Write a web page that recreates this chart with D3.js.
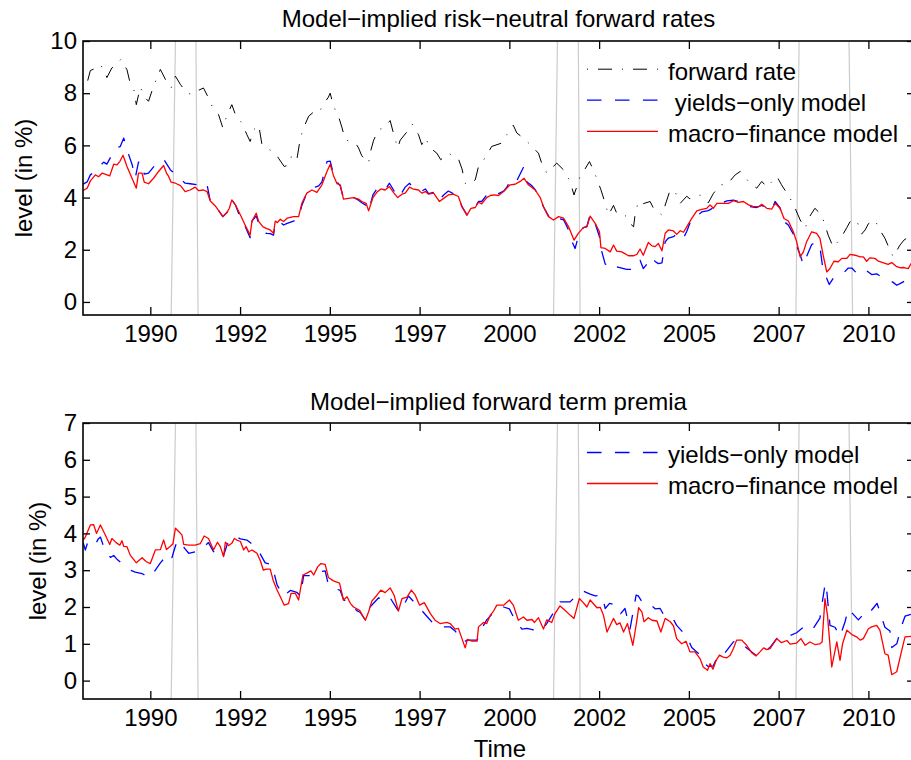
<!DOCTYPE html>
<html>
<head>
<meta charset="utf-8">
<script src="https://cdn.jsdelivr.net/npm/d3@7"></script>
<style>
  body { margin: 0; background: #fff; }
  svg { display: block; font-family: "Liberation Sans", Arial, sans-serif; }
  .tick text { font-size: 24px; fill: #000; font-family: "Liberation Sans", Arial, sans-serif; }
  .tick line { stroke: #000; stroke-width: 1.3; }
  .label { font-size: 24px; fill: #000; }
</style>
</head>
<body>
<svg id="chart"></svg>
<script>
// DATA (decimal years, percent)

const xTickValues = [1990, 1992.5, 1995, 1997.5, 2000, 2002.5, 2005, 2007.5, 2010];
const xTickLabels = ["1990", "1992", "1995", "1997", "2000", "2002", "2005", "2007", "2010"];
const topYTicks = [0, 2, 4, 6, 8, 10];
const bottomYTicks = [0, 1, 2, 3, 4, 5, 6, 7];

// recession markers (slanted grey lines): date at the bottom and at the top of each line
const recessionBottom = [1990.58, 1991.33, 2001.23, 2001.97, 2007.98, 2009.56];
const recessionTop    = [1990.70, 1991.27, 2001.34, 2001.92, 2008.07, 2009.46];

const fwdRate = [
  [1988.13,8.1],[1988.24,8.4],[1988.33,8.87],[1988.47,8.95],[1988.61,9.1],[1988.70,8.9],[1988.79,8.6],
  [1988.93,8.97],[1989.05,9.08],[1989.18,9.3],[1989.35,8.9],[1989.42,8.49],[1989.54,8.14],[1989.61,7.56],
  [1989.72,8.23],[1989.86,7.82],[1989.95,7.69],[1990.09,8.27],[1990.28,8.91],[1990.42,8.53],[1990.58,8.2],
  [1990.70,8.65],[1990.84,8.33],[1991.02,8.01],[1991.16,7.95],[1991.25,8.05],[1991.48,8.2],[1991.62,7.82],
  [1991.72,7.5],[1991.90,7.18],[1992.02,6.67],[1992.14,7.18],[1992.27,7.56],[1992.37,7.18],[1992.55,6.86],
  [1992.69,6.41],[1992.78,6.15],[1992.88,6.6],[1993.02,6.77],[1993.11,6.03],[1993.25,5.9],[1993.39,5.77],
  [1993.48,5.7],[1993.57,5.51],[1993.73,5.19],[1993.85,5.25],[1993.94,5.62],[1994.08,5.45],[1994.18,6.28],
  [1994.27,6.67],[1994.41,7.12],[1994.55,7.28],[1994.69,7.25],[1994.82,7.56],[1994.96,7.85],[1995.01,8.0],
  [1995.10,7.5],[1995.24,7.12],[1995.34,6.67],[1995.43,6.22],[1995.57,6.15],[1995.71,6.1],[1995.80,5.9],
  [1995.89,5.6],[1996.08,5.32],[1996.12,5.7],[1996.22,6.2],[1996.36,6.6],[1996.50,6.67],[1996.68,6.95],
  [1996.77,6.47],[1996.89,5.9],[1996.96,6.2],[1997.16,6.54],[1997.29,6.82],[1997.47,6.41],[1997.56,6.03],
  [1997.66,6.3],[1997.80,5.9],[1997.98,5.7],[1998.09,5.45],[1998.30,5.7],[1998.58,5.49],[1998.68,5.1],
  [1998.77,4.55],[1998.86,4.49],[1999.05,4.68],[1999.14,5.19],[1999.23,5.32],[1999.37,5.64],[1999.51,5.96],
  [1999.79,6.09],[1999.93,6.41],[2000.11,6.77],[2000.21,6.47],[2000.39,6.28],[2000.58,6.03],[2000.81,5.7],
  [2000.90,5.32],[2001.04,4.94],[2001.32,5.32],[2001.51,5.06],[2001.69,4.62],[2001.80,4.1],[2001.88,4.42],
  [2001.97,4.8],[2002.11,5.1],[2002.23,5.38],[2002.34,5.06],[2002.55,4.3],[2002.67,3.78],[2002.76,3.33],
  [2002.90,3.7],[2002.99,3.4],[2003.10,3.4],[2003.27,3.27],[2003.36,3.01],[2003.46,2.88],[2003.50,3.33],
  [2003.59,3.85],[2003.69,3.75],[2003.92,3.85],[2004.01,3.6],[2004.25,3.33],[2004.48,4.3],[2004.62,4.2],
  [2004.76,3.78],[2004.94,4.05],[2005.03,3.95],[2005.31,4.1],[2005.45,3.95],[2005.54,3.8],[2005.68,4.15],
  [2005.87,4.49],[2006.06,4.5],[2006.29,4.87],[2006.43,5.0],[2006.56,4.8],[2006.66,4.62],[2006.89,4.36],
  [2007.03,4.62],[2007.17,4.4],[2007.45,4.81],[2007.58,4.49],[2007.82,3.97],[2007.96,3.59],[2008.10,3.14],
  [2008.24,2.82],[2008.33,3.2],[2008.51,3.59],[2008.70,3.33],[2008.88,2.56],[2009.02,2.1],[2009.21,2.4],
  [2009.40,2.85],[2009.49,3.08],[2009.67,3.14],[2009.81,2.6],[2009.91,2.76],[2010.00,3.0],[2010.18,3.14],
  [2010.32,2.76],[2010.46,2.44],[2010.60,1.99],[2010.69,1.73],[2010.88,2.18],[2010.99,2.37],[2011.19,2.56],
  [2011.27,2.6]
];

const rnYields = [
  [1988.13,4.51],[1988.24,4.6],[1988.33,4.87],[1988.47,5.0],[1988.56,5.15],[1988.70,5.36],[1988.79,5.28],
  [1988.93,5.64],[1989.03,5.9],[1989.16,5.95],[1989.26,6.28],[1989.35,5.83],[1989.49,5.28],[1989.58,4.74],
  [1989.67,5.36],[1989.77,5.36],[1989.83,4.9],[1989.95,4.94],[1990.14,5.26],[1990.37,5.47],[1990.56,5.06],
  [1990.70,4.9],[1990.84,4.72],[1990.97,4.55],[1991.11,4.53],[1991.34,4.49],[1991.48,4.59],[1991.58,4.49],
  [1991.67,3.87],[1991.81,3.68],[1992.02,3.27],[1992.14,3.44],[1992.20,3.6],[1992.27,3.91],[1992.37,3.72],
  [1992.51,3.2],[1992.64,2.9],[1992.78,2.46],[1992.83,3.1],[1992.95,3.3],[1993.02,3.0],[1993.14,2.75],
  [1993.23,2.63],[1993.34,2.62],[1993.43,2.56],[1993.48,3.0],[1993.54,2.95],[1993.62,3.05],[1993.71,2.95],
  [1993.81,3.01],[1993.99,3.1],[1994.08,3.14],[1994.13,3.2],[1994.22,3.7],[1994.36,4.17],[1994.50,4.35],
  [1994.59,4.4],[1994.69,4.45],[1994.78,4.6],[1994.92,5.38],[1995.01,5.4],[1995.10,4.9],[1995.20,4.6],
  [1995.29,4.45],[1995.38,3.97],[1995.52,3.97],[1995.66,4.0],[1995.80,3.9],[1995.89,3.8],[1996.01,3.7],
  [1996.08,3.5],[1996.20,4.1],[1996.31,4.33],[1996.42,4.4],[1996.54,4.3],[1996.66,4.55],[1996.77,4.3],
  [1996.89,4.0],[1997.01,4.2],[1997.10,4.4],[1997.22,4.55],[1997.33,4.35],[1997.47,4.3],[1997.56,4.25],
  [1997.66,4.33],[1997.75,4.15],[1997.89,4.2],[1998.05,3.9],[1998.17,4.1],[1998.30,4.25],[1998.44,4.15],
  [1998.58,4.05],[1998.68,3.65],[1998.82,3.33],[1998.93,3.6],[1999.05,3.65],[1999.14,3.85],[1999.23,3.85],
  [1999.37,4.1],[1999.47,4.2],[1999.58,4.23],[1999.70,4.15],[1999.84,4.25],[1999.93,4.4],[2000.07,4.75],
  [2000.21,4.65],[2000.39,5.15],[2000.49,4.6],[2000.63,4.45],[2000.72,4.3],[2000.86,3.95],[2000.95,3.65],
  [2001.09,3.3],[2001.23,3.1],[2001.37,3.2],[2001.51,3.15],[2001.65,2.75],[2001.75,2.3],[2001.83,2.05],
  [2001.92,2.5],[2002.06,2.85],[2002.16,2.9],[2002.25,3.35],[2002.39,3.0],[2002.51,2.5],[2002.56,2.0],
  [2002.67,1.45],[2002.81,1.4],[2002.90,1.5],[2002.99,1.35],[2003.13,1.3],[2003.27,1.25],[2003.41,1.25],
  [2003.46,1.41],[2003.55,1.55],[2003.64,1.6],[2003.73,1.28],[2003.83,1.45],[2003.97,1.73],[2004.06,1.55],
  [2004.15,1.47],[2004.25,1.5],[2004.34,2.3],[2004.43,2.45],[2004.57,2.5],[2004.71,2.65],[2004.85,2.45],
  [2004.94,2.7],[2005.08,3.2],[2005.22,3.3],[2005.36,3.45],[2005.54,3.5],[2005.68,3.6],[2005.78,3.75],
  [2005.92,3.8],[2006.06,3.87],[2006.24,3.9],[2006.38,3.85],[2006.56,3.8],[2006.70,3.65],[2006.89,3.62],
  [2007.03,3.7],[2007.17,3.58],[2007.31,3.55],[2007.40,3.85],[2007.54,3.6],[2007.63,3.1],[2007.77,2.95],
  [2007.91,2.6],[2008.00,2.15],[2008.10,1.8],[2008.19,1.42],[2008.28,1.75],[2008.42,2.2],[2008.56,2.3],
  [2008.65,2.1],[2008.74,1.2],[2008.84,0.9],[2008.91,0.67],[2009.04,0.95],[2009.16,1.0],[2009.30,1.1],
  [2009.44,1.3],[2009.54,1.3],[2009.67,1.1],[2009.81,1.05],[2009.95,1.2],[2010.09,1.05],[2010.23,1.08],
  [2010.32,1.0],[2010.42,0.95],[2010.55,0.85],[2010.69,0.75],[2010.79,0.64],[2010.88,0.7],[2010.97,0.77],
  [2011.11,0.88],[2011.19,0.8],[2011.27,0.85]
];

const rnMacro = [
  [1988.13,4.27],[1988.24,4.36],[1988.33,4.64],[1988.47,4.87],[1988.56,4.80],[1988.66,4.94],[1988.87,4.83],
  [1988.98,5.28],[1989.07,5.25],[1989.15,5.38],[1989.24,5.62],[1989.35,5.19],[1989.49,4.74],[1989.61,4.36],
  [1989.67,4.94],[1989.77,4.94],[1989.83,4.59],[1989.95,4.53],[1990.09,4.74],[1990.23,5.00],[1990.37,5.23],
  [1990.45,4.94],[1990.51,4.81],[1990.58,4.59],[1990.70,4.55],[1990.84,4.46],[1990.97,4.23],[1991.11,4.29],
  [1991.25,4.40],[1991.34,4.27],[1991.48,4.29],[1991.58,4.23],[1991.67,3.87],[1991.81,3.68],[1992.02,3.27],
  [1992.14,3.44],[1992.20,3.59],[1992.27,3.91],[1992.37,3.72],[1992.51,3.33],[1992.64,2.95],[1992.78,2.56],
  [1992.83,3.10],[1992.95,3.40],[1993.02,3.08],[1993.14,2.88],[1993.23,2.82],[1993.34,2.76],[1993.43,2.63],
  [1993.48,3.10],[1993.54,3.04],[1993.62,3.17],[1993.71,3.08],[1993.81,3.21],[1993.99,3.27],[1994.13,3.27],
  [1994.22,3.78],[1994.36,4.17],[1994.50,4.29],[1994.64,4.20],[1994.78,4.49],[1994.92,5.00],[1995.01,5.28],
  [1995.10,4.85],[1995.20,4.53],[1995.29,4.49],[1995.38,3.94],[1995.52,3.97],[1995.66,4.00],[1995.80,3.94],
  [1995.89,3.85],[1996.01,3.78],[1996.08,3.49],[1996.20,4.00],[1996.31,4.20],[1996.42,4.33],[1996.54,4.29],
  [1996.66,4.42],[1996.77,4.20],[1996.89,4.00],[1997.01,4.13],[1997.10,4.17],[1997.22,4.40],[1997.33,4.32],
  [1997.47,4.29],[1997.56,4.17],[1997.66,4.23],[1997.75,4.13],[1997.89,4.17],[1998.05,3.85],[1998.17,3.97],
  [1998.30,4.10],[1998.44,4.13],[1998.58,4.04],[1998.68,3.65],[1998.82,3.33],[1998.93,3.59],[1999.05,3.62],
  [1999.14,3.82],[1999.23,3.76],[1999.37,4.00],[1999.47,4.08],[1999.58,4.10],[1999.70,4.08],[1999.84,4.23],
  [2000.02,4.49],[2000.16,4.51],[2000.30,4.62],[2000.41,4.74],[2000.53,4.49],[2000.72,4.29],[2000.86,4.00],
  [2000.95,3.65],[2001.09,3.27],[2001.23,3.14],[2001.37,3.27],[2001.51,3.21],[2001.65,2.88],[2001.80,2.37],
  [2001.92,2.63],[2002.06,2.85],[2002.16,2.88],[2002.25,3.29],[2002.39,3.01],[2002.51,2.69],[2002.55,2.08],
  [2002.67,2.05],[2002.81,1.92],[2002.90,2.18],[2002.99,1.95],[2003.13,1.92],[2003.32,1.77],[2003.46,1.77],
  [2003.55,1.82],[2003.64,2.03],[2003.73,1.79],[2003.87,2.28],[2003.97,2.15],[2004.06,2.12],[2004.15,2.24],
  [2004.25,1.96],[2004.34,2.63],[2004.43,2.76],[2004.57,2.72],[2004.66,2.59],[2004.76,2.73],[2004.85,2.67],
  [2004.94,2.88],[2005.08,3.20],[2005.22,3.49],[2005.36,3.55],[2005.50,3.59],[2005.59,3.72],[2005.68,3.59],
  [2005.78,3.78],[2005.92,3.78],[2006.10,3.78],[2006.24,3.88],[2006.38,3.82],[2006.52,3.85],[2006.66,3.72],
  [2006.80,3.65],[2006.94,3.65],[2007.03,3.74],[2007.17,3.59],[2007.31,3.56],[2007.40,3.78],[2007.54,3.59],
  [2007.65,3.20],[2007.77,3.10],[2007.91,2.69],[2008.00,2.31],[2008.10,1.73],[2008.19,1.92],[2008.28,2.31],
  [2008.42,2.69],[2008.56,2.63],[2008.65,2.44],[2008.74,1.79],[2008.84,1.15],[2008.93,1.28],[2009.04,1.56],
  [2009.16,1.54],[2009.26,1.67],[2009.40,1.67],[2009.49,1.82],[2009.63,1.79],[2009.77,1.73],[2009.86,1.73],
  [2009.95,1.56],[2010.04,1.69],[2010.18,1.67],[2010.28,1.56],[2010.42,1.50],[2010.55,1.44],[2010.65,1.51],
  [2010.79,1.35],[2010.90,1.31],[2010.99,1.32],[2011.11,1.28],[2011.19,1.47],[2011.27,1.5]
];

const tpYields = [
  [1988.13,3.75],[1988.19,3.55],[1988.27,3.8],[1988.47,3.7],[1988.55,3.85],[1988.61,3.9],[1988.75,3.5],
  [1988.89,3.35],[1988.98,3.4],[1989.07,3.3],[1989.21,3.18],[1989.30,3.1],[1989.44,3.0],[1989.58,2.95],
  [1989.77,2.91],[1989.95,2.8],[1990.05,2.87],[1990.14,3.0],[1990.28,3.2],[1990.37,3.3],[1990.56,3.2],
  [1990.65,3.5],[1990.74,3.78],[1990.84,3.8],[1990.95,3.6],[1991.07,3.46],[1991.25,3.5],[1991.39,3.55],
  [1991.62,3.75],[1991.76,3.5],[1991.95,3.6],[1992.04,3.4],[1992.14,3.7],[1992.27,3.88],[1992.41,3.9],
  [1992.51,3.85],[1992.69,3.82],[1992.78,3.75],[1992.97,3.6],[1993.20,3.2],[1993.39,3.15],[1993.53,2.6],
  [1993.71,2.3],[1993.90,2.45],[1994.08,2.4],[1994.18,2.3],[1994.27,2.85],[1994.45,2.85],[1994.59,2.95],
  [1994.87,2.98],[1994.96,2.6],[1995.15,2.5],[1995.29,2.45],[1995.38,2.2],[1995.57,2.1],[1995.75,1.9],
  [1995.85,1.85],[1995.99,1.65],[1996.12,2.0],[1996.36,2.25],[1996.54,2.15],[1996.68,2.25],[1996.87,1.95],
  [1996.96,1.85],[1997.19,2.3],[1997.33,2.15],[1997.52,1.95],[1997.70,1.75],[1997.93,1.5],[1998.12,1.46],
  [1998.35,1.46],[1998.49,1.35],[1998.63,1.15],[1998.72,1.05],[1998.83,1.1],[1999.10,1.1],[1999.28,1.5],
  [1999.37,1.65],[1999.56,1.85],[1999.65,1.9],[1999.84,2.0],[2000.00,1.95],[2000.16,1.64],[2000.35,1.4],
  [2000.49,1.42],[2000.67,1.38],[2000.90,1.37],[2001.04,1.55],[2001.27,1.91],[2001.41,2.14],[2001.69,2.14],
  [2001.88,2.32],[2002.06,2.43],[2002.25,2.35],[2002.39,2.3],[2002.58,2.32],[2002.67,1.96],[2002.79,2.1],
  [2002.99,2.05],[2003.10,1.82],[2003.22,1.96],[2003.36,1.4],[2003.53,2.32],[2003.59,2.3],[2003.69,2.15],
  [2003.83,2.15],[2004.06,1.95],[2004.20,1.96],[2004.29,1.8],[2004.52,1.75],[2004.66,1.5],[2004.94,1.2],
  [2005.08,0.9],[2005.31,0.7],[2005.45,0.45],[2005.54,0.38],[2005.68,0.4],[2005.82,0.7],[2005.96,0.7],
  [2006.24,1.05],[2006.33,1.1],[2006.75,0.78],[2006.89,0.67],[2007.26,0.9],[2007.45,1.15],[2007.77,1.2],
  [2008.00,1.3],[2008.19,1.45],[2008.42,1.35],[2008.65,1.7],[2008.79,2.6],[2008.82,2.65],[2008.93,1.5],
  [2009.07,1.45],[2009.21,1.2],[2009.35,1.6],[2009.44,1.95],[2009.72,1.65],[2009.86,1.8],[2009.95,1.75],
  [2010.16,2.0],[2010.24,2.1],[2010.31,1.9],[2010.46,1.45],[2010.60,1.35],[2010.65,0.9],[2010.79,1.0],
  [2010.93,1.5],[2011.02,1.75],[2011.19,1.8],[2011.27,1.8]
];

const tpMacro = [
  [1988.13,3.82],[1988.19,3.9],[1988.33,4.23],[1988.42,4.24],[1988.50,4.0],[1988.61,4.23],[1988.75,3.95],
  [1988.87,3.7],[1988.93,3.86],[1989.05,3.75],[1989.15,3.68],[1989.21,3.8],[1989.26,3.65],[1989.35,3.64],
  [1989.44,3.41],[1989.61,3.2],[1989.77,3.34],[1989.89,3.23],[1990.00,3.18],[1990.14,3.55],[1990.28,3.56],
  [1990.37,3.82],[1990.45,3.56],[1990.56,3.65],[1990.63,3.72],[1990.70,4.14],[1990.79,4.05],[1990.88,3.96],
  [1990.93,3.7],[1991.07,3.68],[1991.25,3.68],[1991.39,3.72],[1991.50,3.93],[1991.62,3.86],[1991.76,3.55],
  [1991.87,3.76],[1991.95,3.64],[1992.04,3.37],[1992.09,3.76],[1992.18,3.67],[1992.27,3.73],[1992.34,3.86],
  [1992.41,3.82],[1992.51,3.78],[1992.60,3.55],[1992.67,3.64],[1992.74,3.5],[1992.83,3.55],[1992.97,3.46],
  [1993.06,3.27],[1993.15,3.0],[1993.23,3.03],[1993.34,3.03],[1993.42,2.73],[1993.53,2.46],[1993.62,2.28],
  [1993.73,2.05],[1993.85,2.09],[1993.92,2.37],[1994.04,2.37],[1994.13,2.19],[1994.25,2.87],[1994.36,2.92],
  [1994.47,2.98],[1994.55,2.87],[1994.66,3.09],[1994.75,3.18],[1994.87,3.16],[1994.96,2.8],[1995.10,2.71],
  [1995.27,2.65],[1995.38,2.19],[1995.48,2.28],[1995.57,2.1],[1995.66,2.0],[1995.83,1.91],[1995.89,1.8],
  [1995.99,1.64],[1996.08,1.87],[1996.17,2.16],[1996.31,2.32],[1996.42,2.46],[1996.54,2.39],[1996.68,2.52],
  [1996.79,2.32],[1996.91,1.89],[1997.01,2.23],[1997.15,2.27],[1997.27,2.46],[1997.38,2.32],[1997.50,2.05],
  [1997.63,2.12],[1997.80,1.82],[1997.93,1.64],[1998.07,1.55],[1998.26,1.58],[1998.35,1.55],[1998.49,1.4],
  [1998.58,1.42],[1998.68,1.14],[1998.77,0.89],[1998.83,1.12],[1998.96,1.07],[1999.10,1.07],[1999.14,1.46],
  [1999.28,1.58],[1999.37,1.55],[1999.47,1.78],[1999.56,1.89],[1999.65,2.05],[1999.84,2.05],[2000.00,2.19],
  [2000.11,2.05],[2000.25,1.64],[2000.39,1.73],[2000.49,1.64],[2000.63,1.66],[2000.70,1.58],[2000.81,1.71],
  [2000.95,1.4],[2001.04,1.65],[2001.18,1.58],[2001.27,1.82],[2001.41,2.03],[2001.55,1.91],[2001.69,1.78],
  [2001.80,1.69],[2001.95,2.23],[2002.06,2.12],[2002.16,2.0],[2002.25,2.19],[2002.44,1.98],[2002.53,1.99],
  [2002.62,1.78],[2002.72,1.32],[2002.90,1.69],[2002.99,1.52],[2003.08,1.57],[2003.18,1.32],[2003.29,1.55],
  [2003.44,0.96],[2003.56,1.69],[2003.60,1.98],[2003.69,1.87],[2003.75,1.6],[2003.87,1.71],[2003.97,1.64],
  [2004.11,1.62],[2004.22,1.32],[2004.34,1.69],[2004.48,1.6],[2004.57,1.49],[2004.66,1.14],[2004.80,1.0],
  [2004.92,1.07],[2005.03,0.78],[2005.17,0.78],[2005.31,0.6],[2005.40,0.37],[2005.52,0.28],[2005.59,0.46],
  [2005.67,0.31],[2005.76,0.55],[2005.85,0.69],[2005.96,0.64],[2006.06,0.62],[2006.15,0.69],[2006.24,0.87],
  [2006.33,1.1],[2006.47,1.1],[2006.61,0.96],[2006.75,0.76],[2006.87,0.67],[2006.98,0.78],[2007.08,0.89],
  [2007.17,0.84],[2007.26,0.87],[2007.45,1.14],[2007.58,1.03],[2007.73,1.09],[2007.82,0.99],[2008.00,1.02],
  [2008.12,1.14],[2008.24,0.96],[2008.37,1.05],[2008.51,0.98],[2008.65,1.0],[2008.71,1.05],[2008.79,2.23],
  [2008.86,1.78],[2008.98,0.37],[2009.12,1.05],[2009.21,0.55],[2009.28,1.0],[2009.40,1.37],[2009.54,1.25],
  [2009.67,1.19],[2009.77,1.1],[2009.86,1.14],[2010.00,1.41],[2010.09,1.46],[2010.23,1.5],[2010.32,1.37],
  [2010.46,0.73],[2010.55,0.69],[2010.65,0.16],[2010.79,0.24],[2010.93,0.83],[2011.02,1.19],[2011.19,1.2],
  [2011.27,1.18]
];

// PAGE SETUP

const width = 911, height = 760;
const plotLeft = 83, plotRight = 914;

const svg = d3.select("#chart")
  .attr("width", width)
  .attr("height", height);

const x = d3.scaleLinear()
  .domain([1988.125, 2011.27])
  .range([plotLeft, plotRight]);

const styles = {
  fwd:    {stroke: "#000000", width: 1.0, dash: "1,10,14,10"},
  yields: {stroke: "#0000ff", width: 1.3, dash: "14.5,13.5"},
  macro:  {stroke: "#ff0000", width: 1.3, dash: null}
};

// PANELS

drawPanel({
  id: "top", top: 41, bottom: 315, yDomain: [-0.5, 10], yTicks: topYTicks,
  title: "Model\u2212implied risk\u2212neutral forward rates", titleY: 26.5,
  ylabelX: 32,
  series: [[fwdRate, "fwd"], [rnYields, "yields"], [rnMacro, "macro"]],
  legend: [["forward rate", "fwd"], [" yields\u2212only model", "yields"], ["macro\u2212finance model", "macro"]],
  legendY: [79.7, 110.7, 141.8]
});

drawPanel({
  id: "bottom", top: 423, bottom: 699, yDomain: [-0.5, 7], yTicks: bottomYTicks,
  title: "Model\u2212implied forward term premia", titleY: 410,
  ylabelX: 45.5,
  series: [[tpYields, "yields"], [tpMacro, "macro"]],
  legend: [["yields\u2212only model", "yields"], ["macro\u2212finance model", "macro"]],
  legendY: [463, 494]
});

svg.append("text")
  .attr("class", "label")
  .attr("x", 500)
  .attr("y", 756.5)
  .attr("text-anchor", "middle")
  .text("Time");

// HELPER FUNCTIONS

function drawPanel(p) {
  let y = d3.scaleLinear().domain(p.yDomain).range([p.bottom, p.top]);
  let g = svg.append("g").attr("class", "panel-" + p.id);

  g.append("clipPath").attr("id", "clip-" + p.id)
    .append("rect")
    .attr("x", plotLeft).attr("y", p.top)
    .attr("width", plotRight - plotLeft).attr("height", p.bottom - p.top);

  // recession lines
  g.selectAll(".recession")
    .data(recessionBottom.map((b, i) => [b, recessionTop[i]]))
    .enter()
    .append("line")
    .attr("class", "recession")
    .attr("x1", d => x(d[0])).attr("y1", p.bottom)
    .attr("x2", d => x(d[1])).attr("y2", p.top)
    .attr("stroke", "#cccccc")
    .attr("stroke-width", 1.2);

  let line = d3.line()
    .x(d => x(d[0]))
    .y(d => y(d[1]));

  g.append("g").attr("clip-path", `url(#clip-${p.id})`)
    .selectAll(".series")
    .data(p.series)
    .enter()
    .append("path")
    .attr("class", "series")
    .attr("fill", "none")
    .attr("stroke", d => styles[d[1]].stroke)
    .attr("stroke-width", d => styles[d[1]].width)
    .attr("stroke-dasharray", d => styles[d[1]].dash)
    .attr("stroke-linejoin", "round")
    .attr("d", d => line(d[0]));

  // axes (ticks point inward)
  g.append("g")
    .attr("transform", `translate(0,${p.bottom})`)
    .call(d3.axisBottom(x).tickValues(xTickValues)
      .tickFormat((d, i) => xTickLabels[i]).tickSize(-8).tickPadding(10))
    .call(a => a.select(".domain").remove());

  g.append("g")
    .attr("transform", `translate(0,${p.top})`)
    .call(d3.axisTop(x).tickValues(xTickValues).tickFormat("").tickSize(-8))
    .call(a => a.select(".domain").remove());

  g.append("g")
    .attr("transform", `translate(${plotLeft},0)`)
    .call(d3.axisLeft(y).tickValues(p.yTicks).tickSize(-7).tickPadding(6))
    .call(a => a.select(".domain").remove());

  g.append("g")
    .attr("transform", `translate(${plotRight},0)`)
    .call(d3.axisRight(y).tickValues(p.yTicks).tickFormat("").tickSize(-7))
    .call(a => a.select(".domain").remove());

  g.append("rect")
    .attr("x", plotLeft).attr("y", p.top)
    .attr("width", plotRight - plotLeft).attr("height", p.bottom - p.top)
    .attr("fill", "none")
    .attr("stroke", "#000")
    .attr("stroke-width", 1.6);

  // title and y label
  g.append("text")
    .attr("class", "label")
    .attr("x", (plotLeft + plotRight) / 2)
    .attr("y", p.titleY)
    .attr("text-anchor", "middle")
    .text(p.title);

  g.append("text")
    .attr("class", "label")
    .attr("transform", `translate(${p.ylabelX},${(p.top + p.bottom) / 2}) rotate(-90)`)
    .attr("text-anchor", "middle")
    .text("level (in %)");

  // legend, no box
  let legend = g.selectAll(".legend-item")
    .data(p.legend)
    .enter()
    .append("g")
    .attr("class", "legend-item")
    .attr("transform", (d, i) => `translate(0,${p.legendY[i]})`);

  legend.append("line")
    .attr("x1", 587).attr("x2", 658)
    .attr("y1", -10.5).attr("y2", -10.5)
    .attr("stroke", d => styles[d[1]].stroke)
    .attr("stroke-width", d => styles[d[1]].width)
    .attr("stroke-dasharray", d => styles[d[1]].dash);

  legend.append("text")
    .attr("class", "label")
    .attr("x", 668)
    .style("white-space", "pre")
    .text(d => d[0]);
}
</script>
</body>
</html>
